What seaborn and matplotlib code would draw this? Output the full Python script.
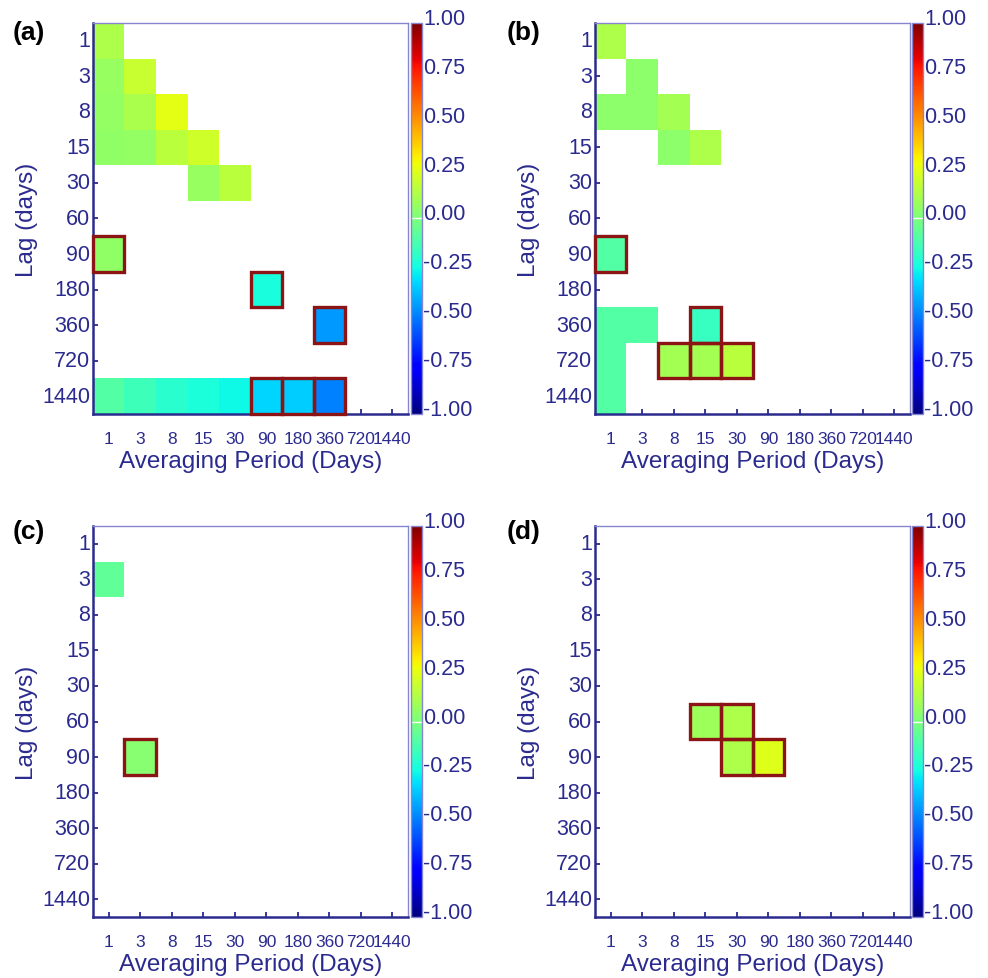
import numpy as np
import pandas as pd
import matplotlib
matplotlib.use("Agg")
import matplotlib.pyplot as plt
import seaborn as sns
from matplotlib.patches import Rectangle
from matplotlib.transforms import ScaledTranslation

# ---------------- data ----------------
lags = [1, 3, 8, 15, 30, 60, 90, 180, 360, 720, 1440]
periods = [1, 3, 8, 15, 30, 90, 180, 360, 720, 1440]

a_lag = [1, 3, 3, 8, 8, 8, 15, 15, 15, 15, 30, 30, 90, 180, 360,
         1440, 1440, 1440, 1440, 1440, 1440, 1440, 1440]
a_per = [1, 1, 3, 1, 3, 8, 1, 3, 8, 15, 15, 30, 1, 90, 360,
         1, 3, 8, 15, 30, 90, 180, 360]
a_val = [0.12, 0.07, 0.18, 0.06, 0.11, 0.25, 0.05, 0.06, 0.15, 0.20, 0.07, 0.15,
         0.05, -0.24, -0.45, -0.10, -0.15, -0.20, -0.23, -0.26, -0.33, -0.35, -0.50]
a_sig = [0, 0, 0, 0, 0, 0, 0, 0, 0, 0, 0, 0, 1, 1, 1, 0, 0, 0, 0, 0, 1, 1, 1]

b_lag = [1, 3, 8, 8, 8, 15, 15, 90, 360, 360, 360, 720, 720, 720, 720, 1440]
b_per = [1, 3, 1, 3, 8, 8, 15, 1, 1, 3, 15, 1, 8, 15, 30, 1]
b_val = [0.12, 0.04, 0.04, 0.04, 0.10, 0.04, 0.12, -0.10, -0.10, -0.10, -0.17,
         -0.10, 0.10, 0.10, 0.15, -0.10]
b_sig = [0, 0, 0, 0, 0, 0, 0, 1, 0, 0, 1, 0, 1, 1, 1, 0]

c_lag = [3, 90]
c_per = [1, 3]
c_val = [-0.07, 0.03]
c_sig = [0, 1]

d_lag = [60, 60, 90, 90]
d_per = [15, 30, 30, 90]
d_val = [0.08, 0.12, 0.12, 0.24]
d_sig = [1, 1, 1, 1]

cbar_ticks = [-1.0, -0.75, -0.5, -0.25, 0.0, 0.25, 0.5, 0.75, 1.0]
panel_names = ["(a)", "(b)", "(c)", "(d)"]

# ---------------- style ----------------
sns.set_theme(style="white")
plt.rcParams["font.family"] = ["Liberation Sans", "DejaVu Sans"]

NAVY = "#2b2b8f"
LIGHT = "#8585d0"
BOX = "#8c1414"

fig = plt.figure(figsize=(9.88, 9.79), dpi=100)

W, H = 0.319, 0.3994
CBW = 0.0111
layout = [
    (0.0941, 0.5761, 0.4160, 0.0132, 0.966),
    (0.6022, 0.5761, 0.9231, 0.5131, 0.966),
    (0.0941, 0.0623, 0.4160, 0.0132, 0.4566),
    (0.6022, 0.0623, 0.9231, 0.5131, 0.4566),
]
datasets = [
    (a_lag, a_per, a_val, a_sig),
    (b_lag, b_per, b_val, b_sig),
    (c_lag, c_per, c_val, c_sig),
    (d_lag, d_per, d_val, d_sig),
]

for (axl, axb, cbl, tx, ty), (lg, pr, vl, sg), name in zip(layout, datasets, panel_names):
    ax = fig.add_axes([axl, axb, W, H])
    cax = fig.add_axes([cbl, axb, CBW, H])

    grid = pd.DataFrame(np.nan, index=lags, columns=periods)
    for l, p, v in zip(lg, pr, vl):
        grid.loc[l, p] = v

    sns.heatmap(grid, ax=ax, cmap="jet", vmin=-1, vmax=1, cbar_ax=cax,
                xticklabels=[str(p) for p in periods],
                yticklabels=[str(l) for l in lags])

    # significance boxes
    for l, p, s in zip(lg, pr, sg):
        if s:
            j = periods.index(p)
            i = lags.index(l)
            ax.add_patch(Rectangle((j, i), 1, 1, fill=False, ec=BOX, lw=2.4,
                                   zorder=5, clip_on=False))

    # spines
    for side in ["left", "bottom"]:
        ax.spines[side].set_visible(True)
        ax.spines[side].set_color(NAVY)
        ax.spines[side].set_linewidth(1.8)
    for side in ["top", "right"]:
        ax.spines[side].set_visible(True)
        ax.spines[side].set_color(LIGHT)
        ax.spines[side].set_linewidth(1.0)

    ax.tick_params(axis="both", which="both", left=True, bottom=True, top=False,
                   right=False, direction="in", length=3.8, width=1.3, color=NAVY,
                   labelcolor=NAVY)
    ax.tick_params(axis="x", labelsize=12.5, pad=12)
    ax.tick_params(axis="y", labelsize=15.5, pad=2)
    plt.setp(ax.get_xticklabels(), rotation=0)
    plt.setp(ax.get_yticklabels(), rotation=0)

    ax.set_xlabel("Averaging Period (Days)", fontsize=17.5, color=NAVY, labelpad=3)
    ax.set_ylabel("Lag (days)", fontsize=17.5, color=NAVY, labelpad=3)

    # colorbar
    cbar = ax.collections[0].colorbar
    cbar.set_ticks(cbar_ticks)
    cbar.set_ticklabels([f"{t:.2f}" for t in cbar_ticks])
    cbar.outline.set_visible(True)
    cbar.outline.set_edgecolor(LIGHT)
    cbar.outline.set_linewidth(1.0)
    cax.tick_params(length=0, pad=1, labelsize=15.5, labelcolor=NAVY)
    cax.axhline(0, color="white", lw=1.0)
    off = ScaledTranslation(0, 7 / 100, fig.dpi_scale_trans)
    for lab in cax.get_yticklabels():
        lab.set_transform(lab.get_transform() + off)

    fig.text(tx, ty, name, fontsize=19, fontweight="bold", color="black",
             ha="left", va="center")

fig.savefig("out.png", dpi=100)
